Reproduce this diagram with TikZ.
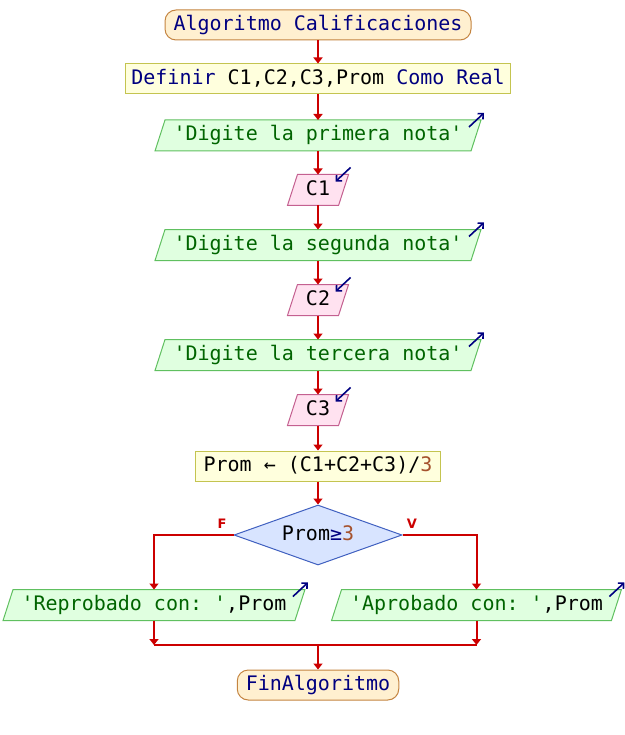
\documentclass[tikz,border=0pt]{standalone}
\usepackage{fontspec}
\setmonofont{DejaVu Sans Mono}
\newfontfamily\lblfont{DejaVu Sans}
\usetikzlibrary{shapes.geometric,arrows.meta,backgrounds}
\definecolor{kw}{RGB}{0,0,128}
\definecolor{strc}{RGB}{0,100,0}
\definecolor{numc}{RGB}{165,82,45}
\definecolor{flowred}{RGB}{204,0,0}
\definecolor{termfill}{RGB}{255,240,208}
\definecolor{termdraw}{RGB}{196,132,64}
\definecolor{procfill}{RGB}{255,255,221}
\definecolor{procdraw}{RGB}{196,196,80}
\definecolor{outfill}{RGB}{224,255,224}
\definecolor{outdraw}{RGB}{96,192,96}
\definecolor{infill}{RGB}{255,226,240}
\definecolor{indraw}{RGB}{196,96,144}
\definecolor{decfill}{RGB}{216,228,255}
\definecolor{decdraw}{RGB}{64,96,192}
\newcommand\paraframe[2]{%
  \filldraw[#2, line width=1pt]
    ([xshift=5pt]#1.north west) -- ([xshift=5pt]#1.north east) --
    ([xshift=-5pt]#1.south east) -- ([xshift=-5pt]#1.south west) -- cycle;}
\begin{document}
\begin{tikzpicture}[x=1pt,y=-1pt,
 base/.style={font=\ttfamily\fontsize{20}{24}\selectfont, minimum height=30pt, inner ysep=0pt, text height=15pt, text depth=4pt, line width=1pt},
 term/.style={base, rectangle, rounded corners=11pt, fill=termfill, draw=termdraw, inner xsep=8.5pt, text=kw},
 proc/.style={base, rectangle, fill=procfill, draw=procdraw, inner xsep=6pt},
 iobox/.style={base, rectangle, inner xsep=13pt},
 outstyle/.style={fill=outfill, draw=outdraw},
 instyle/.style={fill=infill, draw=indraw},
 dec/.style={base, diamond, aspect=2.8, minimum width=168pt, minimum height=60pt, inner sep=0pt, fill=decfill, draw=decdraw},
 flow/.style={draw=flowred, line width=2pt, -{Triangle[width=9pt,length=6pt]}},
 link/.style={draw=flowred, line width=2pt},
 icon/.style={draw=kw, line width=1.6pt, -{Straight Barb[length=4pt,width=8pt]}},
 lbl/.style={text=flowred, font=\lblfont\bfseries\fontsize{13}{13}\selectfont, inner sep=0pt}
]
\useasboundingbox (0,0) rectangle (624,735);
\node[term] (start) at (318,25) {Algoritmo Calificaciones};
\node[proc] (def) at (318,79) {{\color{kw}Definir} C1,C2,C3,Prom {\color{kw}Como Real}};
\node[iobox] (o1) at (318,135.5) {\color{strc}'Digite la primera nota'};
\node[iobox] (i1) at (318,190) {C1};
\node[iobox] (o2) at (318,245) {\color{strc}'Digite la segunda nota'};
\node[iobox] (i2) at (318,300) {C2};
\node[iobox] (o3) at (318,355) {\color{strc}'Digite la tercera nota'};
\node[iobox] (i3) at (318,410) {C3};
\node[proc, inner xsep=8pt] (calc) at (318,466) {Prom ← (C1+C2+C3)/{\color{numc}3}};
\node[dec] (cond) at (318,535) {Prom{\color{kw}≥}{\color{numc}3}};
\node[lbl] (fl) at (222,524) {F};
\node[lbl] (vl) at (412,524) {V};
\node[iobox] (lo) at (154,605) {{\color{strc}'Reprobado con: '},Prom};
\node[iobox] (ro) at (476.5,605) {{\color{strc}'Aprobado con: '},Prom};
\coordinate (join) at (318,645);
\node[term] (end) at (318,685) {FinAlgoritmo};

\begin{scope}[on background layer]
\foreach \n in {o1,o2,o3,lo,ro} {\paraframe{\n}{outstyle}}
\foreach \n in {i1,i2,i3} {\paraframe{\n}{instyle}}
\end{scope}

\draw[flow] (start) -- (def);
\draw[flow] (def) -- (o1);
\draw[flow] (o1) -- (i1);
\draw[flow] (i1) -- (o2);
\draw[flow] (o2) -- (i2);
\draw[flow] (i2) -- (o3);
\draw[flow] (o3) -- (i3);
\draw[flow] (i3) -- (calc);
\draw[flow] (calc) -- (cond);
\draw[flow] (cond.west) -| (lo.north);
\draw[flow] (cond.east) -| (ro.north);
\draw[flow] (lo.south) -- (lo.south |- join);
\draw[flow] (ro.south) -- (ro.south |- join);
\draw[link] (lo.south |- join) -- (ro.south |- join);
\draw[flow] (join) -- (end);

\foreach \n in {o1,o2,o3,lo,ro}
  \draw[icon] ([shift={(-7,7)}]\n.north east) -- ++(15,-14);
\foreach \n in {i1,i2,i3}
  \draw[icon] ([shift={(7,-7)}]\n.north east) -- ++(-15,14);
\end{tikzpicture}
\end{document}
